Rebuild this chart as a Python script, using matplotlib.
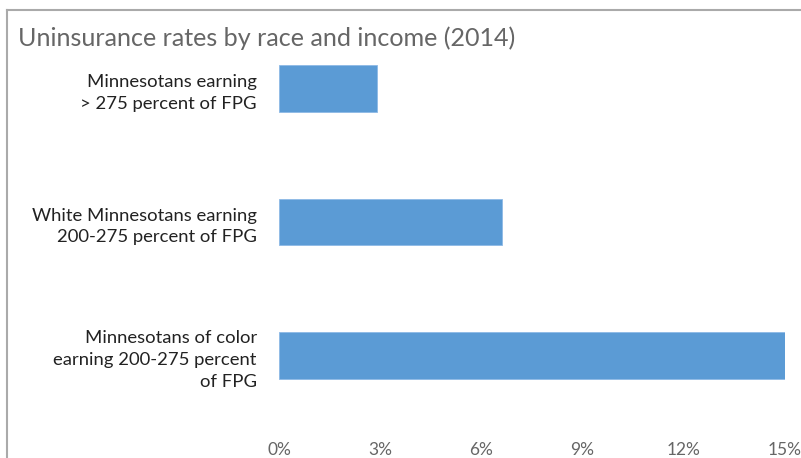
import matplotlib
matplotlib.use('Agg')
import matplotlib.pyplot as plt
from matplotlib.lines import Line2D

categorias = [
    "Minnesotans earning\n> 275 percent of FPG",
    "White Minnesotans earning\n200-275 percent of FPG",
    "Minnesotans of color\nearning 200-275 percent\nof FPG",
]
taxas = [2.9, 6.6, 15.0]
ticks_x = [0, 3, 6, 9, 12, 15]
rotulos_x = ["0%", "3%", "6%", "9%", "12%", "15%"]

plt.rcParams['font.family'] = ['Lato', 'DejaVu Sans']

W, H = 801, 458
fig = plt.figure(figsize=(W / 100, H / 100), dpi=100)

# eixo posicionado em pixels
esq, dir_, topo, base = 279, 785, 44, 400
ax = fig.add_axes([esq / W, 1 - base / H, (dir_ - esq) / W, (base - topo) / H])

ax.barh(range(len(categorias)), taxas, height=0.35, color='#5B9BD5',
        edgecolor='#8DB9E6', linewidth=0.6)

ax.set_xlim(0, 15)
ax.set_ylim(2 + 44.5 / 133.5, -44.5 / 133.5)

ax.set_yticks(range(len(categorias)))
ax.set_yticklabels(categorias, fontsize=13.3, color='#222222', linespacing=1.45)
ax.set_xticks(ticks_x)
ax.set_xticklabels(rotulos_x, fontsize=12.5, color='#666666')
ax.tick_params(axis='y', length=0, pad=16)
ax.tick_params(axis='x', length=0, pad=30)

for s in ax.spines.values():
    s.set_visible(False)

# titulo
fig.text(18 / W, 1 - 38 / H, "Uninsurance rates by race and income (2014)",
         fontsize=18.1, color='#666666', ha='left', va='center')

# moldura cinza (cortada na imagem original)
fig.add_artist(Line2D([7 / W, 1], [1 - 10 / H, 1 - 10 / H],
                      transform=fig.transFigure, color='#AAAAAA', linewidth=1.5))
fig.add_artist(Line2D([7 / W, 7 / W], [0, 1 - 10 / H],
                      transform=fig.transFigure, color='#AAAAAA', linewidth=1.5))

plt.savefig('out.png', dpi=100)
plt.close(fig)
